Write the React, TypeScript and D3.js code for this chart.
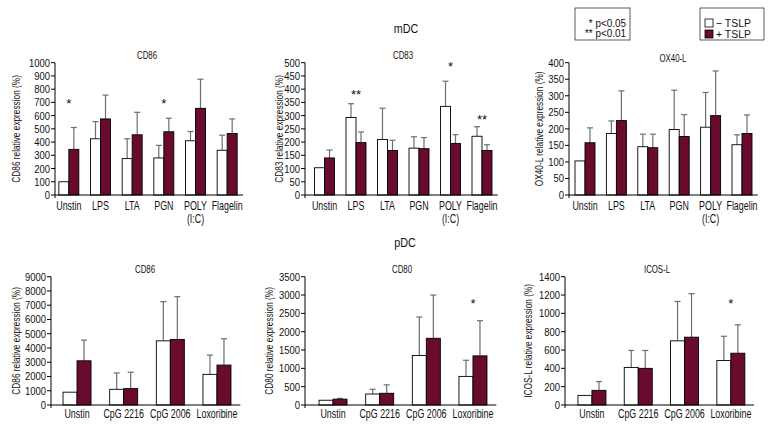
import React from "react";
import * as d3 from "d3";

// ---------- DATA ----------
const mdcCats = ["Unstin", "LPS", "LTA", "PGN", "POLY\n(I:C)", "Flagelin"];
const pdcCats = ["Unstin", "CpG 2216", "CpG 2006", "Loxoribine"];

const cd86mMinus = [100, 425, 275, 280, 410, 338];
const cd86mMinusSD = [0, 130, 150, 95, 70, 114];
const cd86mPlus = [345, 575, 455, 478, 655, 465];
const cd86mPlusSD = [165, 180, 170, 102, 220, 110];

const cd83Minus = [103, 293, 210, 177, 335, 222];
const cd83MinusSD = [0, 52, 118, 43, 95, 36];
const cd83Plus = [140, 198, 168, 175, 195, 168];
const cd83PlusSD = [30, 40, 39, 42, 33, 22];

const ox40lMinus = [103, 186, 146, 198, 205, 152];
const ox40lMinusSD = [0, 38, 38, 119, 105, 30];
const ox40lPlus = [158, 225, 143, 177, 240, 186];
const ox40lPlusSD = [45, 90, 41, 66, 135, 56];

const cd86pMinus = [900, 1100, 4500, 2150];
const cd86pMinusSD = [0, 1150, 2750, 1350];
const cd86pPlus = [3100, 1150, 4600, 2800];
const cd86pPlusSD = [1450, 1150, 3000, 1850];

const cd80Minus = [130, 300, 1350, 780];
const cd80MinusSD = [0, 130, 1050, 440];
const cd80Plus = [160, 320, 1820, 1340];
const cd80PlusSD = [20, 230, 1180, 960];

const icoslMinus = [105, 410, 700, 485];
const icoslMinusSD = [0, 185, 430, 265];
const icoslPlus = [160, 400, 740, 565];
const icoslPlusSD = [95, 195, 475, 310];

const cd86mStars = [{ i: 0, t: "*", v: 700 }, { i: 3, t: "*", v: 700 }];
const cd83Stars = [{ i: 1, t: "**", v: 385 }, { i: 4, t: "*", v: 491 }, { i: 5, t: "**", v: 291 }];
const cd80Stars = [{ i: 3, t: "*", v: 2810 }];
const icoslStars = [{ i: 3, t: "*", v: 1125 }];

const cd86mTicks = d3.range(0, 1001, 100);
const cd83Ticks = d3.range(0, 501, 50);
const ox40lTicks = d3.range(0, 401, 50);
const cd86pTicks = d3.range(0, 9001, 1000);
const cd80Ticks = d3.range(0, 3501, 500);
const icoslTicks = d3.range(0, 1401, 200);

// ---------- STYLE ----------
const FONT = "'Liberation Sans', Arial, sans-serif";
const DARK = "#6a0a2e";
const ERR = "#6e6e6e";
const INK = "#111";

type TProps = {
  x: number; y: number; sx?: number; size: number; anchor?: "start" | "middle" | "end";
  rot?: number; dy?: string; children: React.ReactNode;
};
function T({ x, y, sx = 0.74, size, anchor = "middle", rot = 0, dy, children }: TProps) {
  return (
    <text transform={`translate(${x},${y}) rotate(${rot}) scale(${sx},1)`} fontFamily={FONT}
      fontSize={size} textAnchor={anchor} dy={dy} fill={INK}>{children}</text>
  );
}

type Star = { i: number; t: string; v: number };
type PanelProps = {
  title: string; ylabel: string; cats: string[];
  minus: number[]; minusSD: number[]; plus: number[]; plusSD: number[];
  ticks: number[]; stars: Star[]; axisX: number; xr: [number, number];
  y0: number; y1: number; barW: number; titleX: number; titleY: number; ylabX: number; catY: number;
};

function Panel(p: PanelProps) {
  const max = p.ticks[p.ticks.length - 1];
  const y = d3.scaleLinear().domain([0, max]).range([p.y0, p.y1]);
  const x = d3.scaleBand<number>().domain(p.cats.map((_, i) => i)).range(p.xr).padding(0);
  const cx = (i: number) => (x(i) as number) + x.bandwidth() / 2;
  const bars: React.ReactNode[] = [];
  p.cats.forEach((_, i) => {
    const c = cx(i);
    const groups = [
      { v: p.minus[i], sd: p.minusSD[i], x0: c - p.barW, fill: "#fff" },
      { v: p.plus[i], sd: p.plusSD[i], x0: c, fill: DARK },
    ];
    groups.forEach((g, k) => {
      const mid = g.x0 + p.barW / 2;
      if (g.sd > 0) {
        bars.push(
          <g key={`e${i}-${k}`} stroke={ERR} strokeWidth={1.2}>
            <line x1={mid} x2={mid} y1={y(g.v)} y2={y(g.v + g.sd)} />
            <line x1={mid - 3} x2={mid + 3} y1={y(g.v + g.sd)} y2={y(g.v + g.sd)} />
          </g>
        );
      }
      bars.push(
        <rect key={`b${i}-${k}`} x={g.x0} y={y(g.v)} width={p.barW} height={p.y0 - y(g.v)}
          fill={g.fill} stroke="#000" strokeWidth={0.9} />
      );
    });
  });
  const yc = (p.y0 + p.y1) / 2;
  return (
    <g>
      <T x={p.titleX} y={p.titleY} size={11.5} sx={0.68}>{p.title}</T>
      <T x={p.ylabX} y={yc} size={11.5} sx={0.72} rot={-90}>{p.ylabel}</T>
      {bars}
      <line x1={p.axisX} x2={p.axisX} y1={p.y1} y2={p.y0 + 3} stroke="#000" />
      <line x1={p.axisX} x2={p.xr[1]} y1={p.y0} y2={p.y0} stroke="#000" />
      {p.ticks.map((t) => (
        <g key={t}>
          <line x1={p.axisX - 4} x2={p.axisX} y1={y(t)} y2={y(t)} stroke="#000" />
          <T x={p.axisX - 5} y={y(t)} dy="0.36em" size={11} sx={0.86} anchor="end">{t}</T>
        </g>
      ))}
      {p.cats.map((c, i) =>
        c.split("\n").map((l, j) => (
          <T key={`${c}${j}`} x={cx(i)} y={p.catY + j * 12.5} size={12} sx={0.74}>{l}</T>
        ))
      )}
      {p.stars.map((s, k) => (
        <T key={k} x={cx(s.i)} y={y(s.v) + 6} size={13} sx={1}>{s.t}</T>
      ))}
    </g>
  );
}

export default function App() {
  const topCommon = { y0: 195, y1: 62.7, barW: 10, catY: 210 };
  const botCommon = { y0: 405, y1: 276.7, barW: 14, catY: 418 };
  return (
    <svg width={768} height={432} style={{ position: "absolute", left: 0, top: 0, background: "#fff" }}>
      <rect width={768} height={432} fill="#fff" />
      <T x={406} y={33} size={13.5} sx={0.8}>mDC</T>
      <T x={405} y={247} size={13.5} sx={0.8}>pDC</T>

      <Panel {...topCommon} title="CD86" ylabel="CD86 relative expression (%)" cats={mdcCats}
        minus={cd86mMinus} minusSD={cd86mMinusSD} plus={cd86mPlus} plusSD={cd86mPlusSD}
        ticks={cd86mTicks} stars={cd86mStars} axisX={55} xr={[53, 243]} titleX={147} titleY={59} ylabX={20} />
      <Panel {...topCommon} title="CD83" ylabel="CD83 relative expression (%)" cats={mdcCats}
        minus={cd83Minus} minusSD={cd83MinusSD} plus={cd83Plus} plusSD={cd83PlusSD}
        ticks={cd83Ticks} stars={cd83Stars} axisX={305} xr={[308.75, 497.75]} titleX={403} titleY={59} ylabX={283} />
      <Panel {...topCommon} title="OX40-L" ylabel="OX40-L relative expression (%)" cats={mdcCats}
        minus={ox40lMinus} minusSD={ox40lMinusSD} plus={ox40lPlus} plusSD={ox40lPlusSD}
        ticks={ox40lTicks} stars={[]} axisX={569} xr={[569.3, 757.7]} titleX={673} titleY={62} ylabX={543} />

      <Panel {...botCommon} title="CD86" ylabel="CD86 relative expression (%)" cats={pdcCats}
        minus={cd86pMinus} minusSD={cd86pMinusSD} plus={cd86pPlus} plusSD={cd86pPlusSD}
        ticks={cd86pTicks} stars={[]} axisX={51} xr={[53.7, 240.3]} titleX={145} titleY={273} ylabX={20} />
      <Panel {...botCommon} title="CD80" ylabel="CD80 relative expression (%)" cats={pdcCats}
        minus={cd80Minus} minusSD={cd80MinusSD} plus={cd80Plus} plusSD={cd80PlusSD}
        ticks={cd80Ticks} stars={cd80Stars} axisX={305} xr={[309.7, 496.3]} titleX={402} titleY={273} ylabX={273} />
      <Panel {...botCommon} title="ICOS-L" ylabel="ICOS-L relative expression (%)" cats={pdcCats}
        minus={icoslMinus} minusSD={icoslMinusSD} plus={icoslPlus} plusSD={icoslPlusSD}
        ticks={icoslTicks} stars={icoslStars} axisX={565} xr={[568.8, 754]} titleX={657} titleY={273} ylabX={532} />

      <rect x={575} y={8} width={55} height={32} fill="#fff" stroke="#333" strokeWidth={0.8} />
      <T x={626} y={27} size={11} sx={0.9} anchor="end">* p&lt;0.05</T>
      <T x={626} y={37} size={11} sx={0.9} anchor="end">** p&lt;0.01</T>
      <rect x={700} y={8} width={64} height={32} fill="#fff" stroke="#333" strokeWidth={0.8} />
      <rect x={705} y={19} width={8} height={8} fill="#fff" stroke="#000" strokeWidth={0.8} />
      <rect x={705} y={30} width={8} height={8} fill={DARK} stroke="#000" strokeWidth={0.8} />
      <T x={716} y={27} size={11} sx={0.95} anchor="start">− TSLP</T>
      <T x={716} y={38} size={11} sx={0.95} anchor="start">+ TSLP</T>
    </svg>
  );
}
